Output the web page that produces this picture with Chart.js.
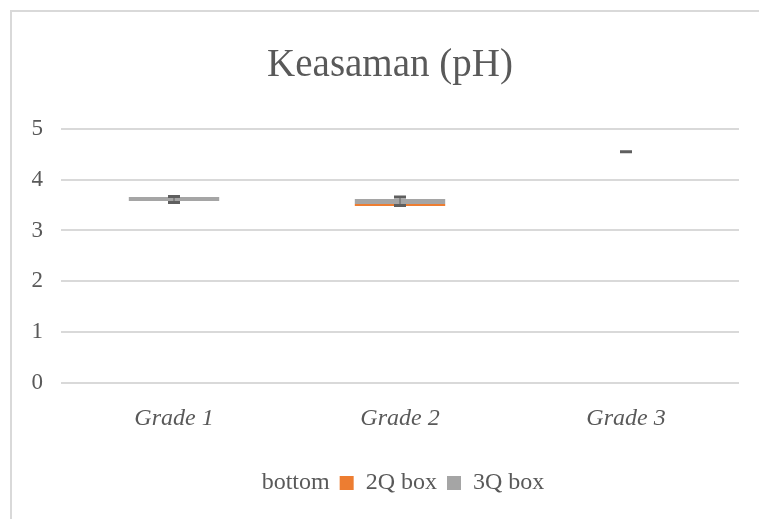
<!DOCTYPE html>
<html>
<head>
<meta charset="utf-8">
<script src="https://cdn.jsdelivr.net/npm/chart.js@4/dist/chart.umd.min.js"></script>
<style>
  html, body { margin: 0; padding: 0; background: #fff; overflow: hidden; }
  #frame { position: absolute; left: 10px; top: 10px; width: 780px; height: 540px; border: 2px solid #d9d9d9; box-sizing: border-box; }
  #wrap { position: absolute; left: 0; top: 0; width: 759px; height: 519px; }
</style>
</head>
<body>
<div id="frame"></div>
<div id="wrap"><canvas id="chartPh" width="759" height="519"></canvas></div>
<script>
const categories = ['Grade 1', 'Grade 2', 'Grade 3'];
const bottom = [3.58, 3.48, 4.55];
const box2Q = [0.00, 0.04, 0.00];
const box3Q = [0.08, 0.10, 0.00];
const whiskerLow = [3.55, 3.49, 4.55];
const whiskerHigh = [3.67, 3.66, 4.55];
const yTicks = [0, 1, 2, 3, 4, 5];

const txt = '#595959';
const serif = '"Liberation Serif", "Times New Roman", serif';

const whiskers = {
    id: 'whiskers',
    afterDatasetsDraw(chart) {
        const { ctx, scales: { x, y } } = chart;
        ctx.save();
        ctx.strokeStyle = '#5f5f5f';
        categories.forEach((c, i) => {
            const cx = x.getPixelForValue(i);
            const yl = y.getPixelForValue(whiskerLow[i]);
            const yh = y.getPixelForValue(whiskerHigh[i]);
            ctx.lineWidth = 1;
            ctx.beginPath();
            ctx.moveTo(cx, yl); ctx.lineTo(cx, yh);
            ctx.stroke();
            ctx.lineWidth = 3;
            ctx.beginPath();
            ctx.moveTo(cx - 6, yl); ctx.lineTo(cx + 6, yl);
            ctx.moveTo(cx - 6, yh); ctx.lineTo(cx + 6, yh);
            ctx.stroke();
        });
        ctx.restore();
    }
};

new Chart(document.getElementById('chartPh'), {
    type: 'bar',
    data: {
        labels: categories,
        datasets: [
            { label: 'bottom', data: bottom, backgroundColor: 'rgba(0,0,0,0)', borderWidth: 0 },
            { label: '2Q box', data: box2Q, backgroundColor: '#ed7d31', borderWidth: 0 },
            { label: '3Q box', data: box3Q, backgroundColor: '#a5a5a5', borderWidth: 0 }
        ]
    },
    options: {
        responsive: false,
        animation: false,
        categoryPercentage: 1,
        barPercentage: 0.4,
        layout: { padding: { top: 32, left: 41, right: 20, bottom: 14 } },
        plugins: {
            title: {
                display: true, text: 'Keasaman (pH)', color: txt,
                font: { family: serif, size: 39, weight: 'normal' },
                padding: { top: 10, bottom: 40 }
            },
            legend: {
                position: 'bottom',
                labels: { color: txt, font: { family: serif, size: 24 }, boxWidth: 14, boxHeight: 14, padding: 10 }
            },
            tooltip: { enabled: false }
        },
        scales: {
            x: {
                stacked: true,
                grid: { display: false },
                border: { display: false },
                ticks: { color: txt, padding: 13, font: { family: serif, size: 24, style: 'italic' } },
                afterFit: s => { s.height = 78; }
            },
            y: {
                stacked: true,
                min: 0, max: 5,
                afterBuildTicks: s => { s.ticks = yTicks.map(v => ({ value: v })); },
                grid: { color: '#d9d9d9', lineWidth: 2, drawTicks: false },
                border: { display: false },
                ticks: { color: txt, padding: 18, font: { family: serif, size: 23 } },
                afterFit: s => { s.width = 20; },
                // labels sit in the left padding, so don't clip them to the axis box
                afterUpdate: s => { s._computeLabelArea = () => undefined; }
            }
        }
    },
    plugins: [whiskers]
});
</script>
</body>
</html>
